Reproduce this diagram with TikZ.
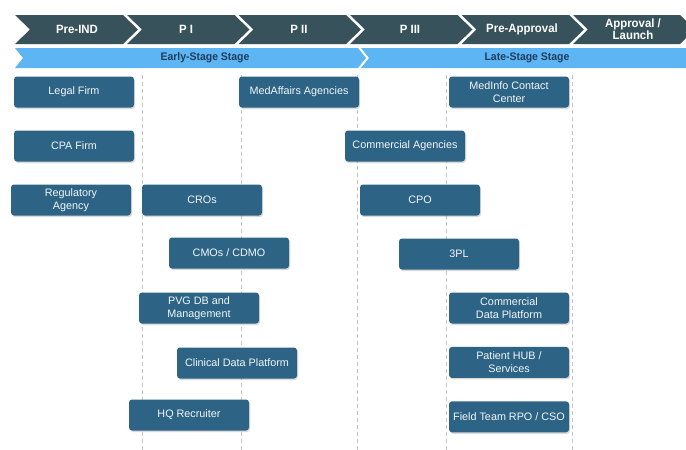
\documentclass[tikz,border=0pt]{standalone}
\usepackage{fontspec}
\setmainfont{Liberation Sans}
\newfontfamily\hdrfont[FakeStretch=0.95]{Liberation Sans}
\usetikzlibrary{positioning,shadows}
\definecolor{phasegray}{HTML}{37525A}
\definecolor{stageblue}{HTML}{5DB6F3}
\definecolor{stagetext}{HTML}{1E3D5E}
\definecolor{boxblue}{HTML}{2D6486}
\definecolor{gridgray}{HTML}{C4C4C4}

\begin{document}
\begin{tikzpicture}[x=1pt,y=-1pt,
	every node/.style={font=\fontsize{10.8}{13}\selectfont,align=center},
	phase/.style={text=white,font=\hdrfont\bfseries\fontsize{12}{12}\selectfont},
	stage/.style={text=stagetext,font=\hdrfont\bfseries\fontsize{11}{12}\selectfont},
	box/.style={fill=boxblue,text=white!94!boxblue,rounded corners=3pt,minimum width=120pt,minimum height=31pt,inner sep=1pt,
		drop shadow={shadow xshift=1pt,shadow yshift=-1.5pt,opacity=0.3}}]

	\useasboundingbox (0,0) rectangle (686,450);

	% dashed phase guides
	\foreach \x in {142,241,357,446,572}
		\draw[gridgray,line width=0.8pt,dash pattern=on 4pt off 3pt] (\x,75) -- (\x,450);

	% phase chevrons
	\foreach \l/\r in {15/123,127/234.5,238.5/346,350/457.5,461.5/569,573/680}
		\fill[phasegray] (\l,15) -- (\r,15) -- (\r+15,29.5) -- (\r,44) -- (\l,44) -- (\l+15,29.5) -- cycle;
	\node[phase] (P0) at (77,29.5) {Pre-IND};
	\node[phase] (P1) at (186,29.5) {P I};
	\node[phase] (P2) at (299,29.5) {P II};
	\node[phase] (P3) at (410,29.5) {P III};
	\node[phase] (P4) at (522,29.5) {Pre-Approval};
	\node[phase] (P5) at (633,29.5) {Approval /\\Launch};

	% stage bar
	\fill[stageblue] (15,48) -- (358,48) -- (366,58) -- (358,68) -- (15,68) -- (23,58) -- cycle;
	\fill[stageblue] (361,48) -- (690,48) -- (690,68) -- (361,68) -- (369,58) -- cycle;
	\node[stage] (early) at (205,58) {Early-Stage Stage};
	\node[stage] (late) at (527,58) {Late-Stage Stage};

	% early-stage partners
	\node[box] (legal) at (74,92) {Legal Firm};
	\node[box] (cpa) at (74,146) {CPA Firm};
	\node[box] (reg) at (71,200) {Regulatory\\Agency};
	\node[box] (cro) at (202,200) {CROs};
	\node[box] (cmo) at (229,253) {CMOs / CDMO};
	\node[box] (pvg) at (199,308) {PVG DB and\\Management};
	\node[box] (cdp) at (237,363) {Clinical Data Platform};
	\node[box] (hq) at (189,415) {HQ Recruiter};
	\node[box] (medaff) at (299,92) {MedAffairs Agencies};

	% late-stage partners
	\node[box] (comag) at (405,146) {Commercial Agencies};
	\node[box] (medinfo) at (509,92) {MedInfo Contact\\Center};
	\node[box] (cpo) at (420,200) {CPO};
	\node[box] (tpl) at (459,254) {3PL};
	\node[box] (comdata) at (509,308) {Commercial\\Data Platform};
	\node[box, below=23pt of comdata] (hub) {Patient HUB /\\Services};
	\node[box, below=23pt of hub] (field) {Field Team RPO / CSO};
\end{tikzpicture}
\end{document}
